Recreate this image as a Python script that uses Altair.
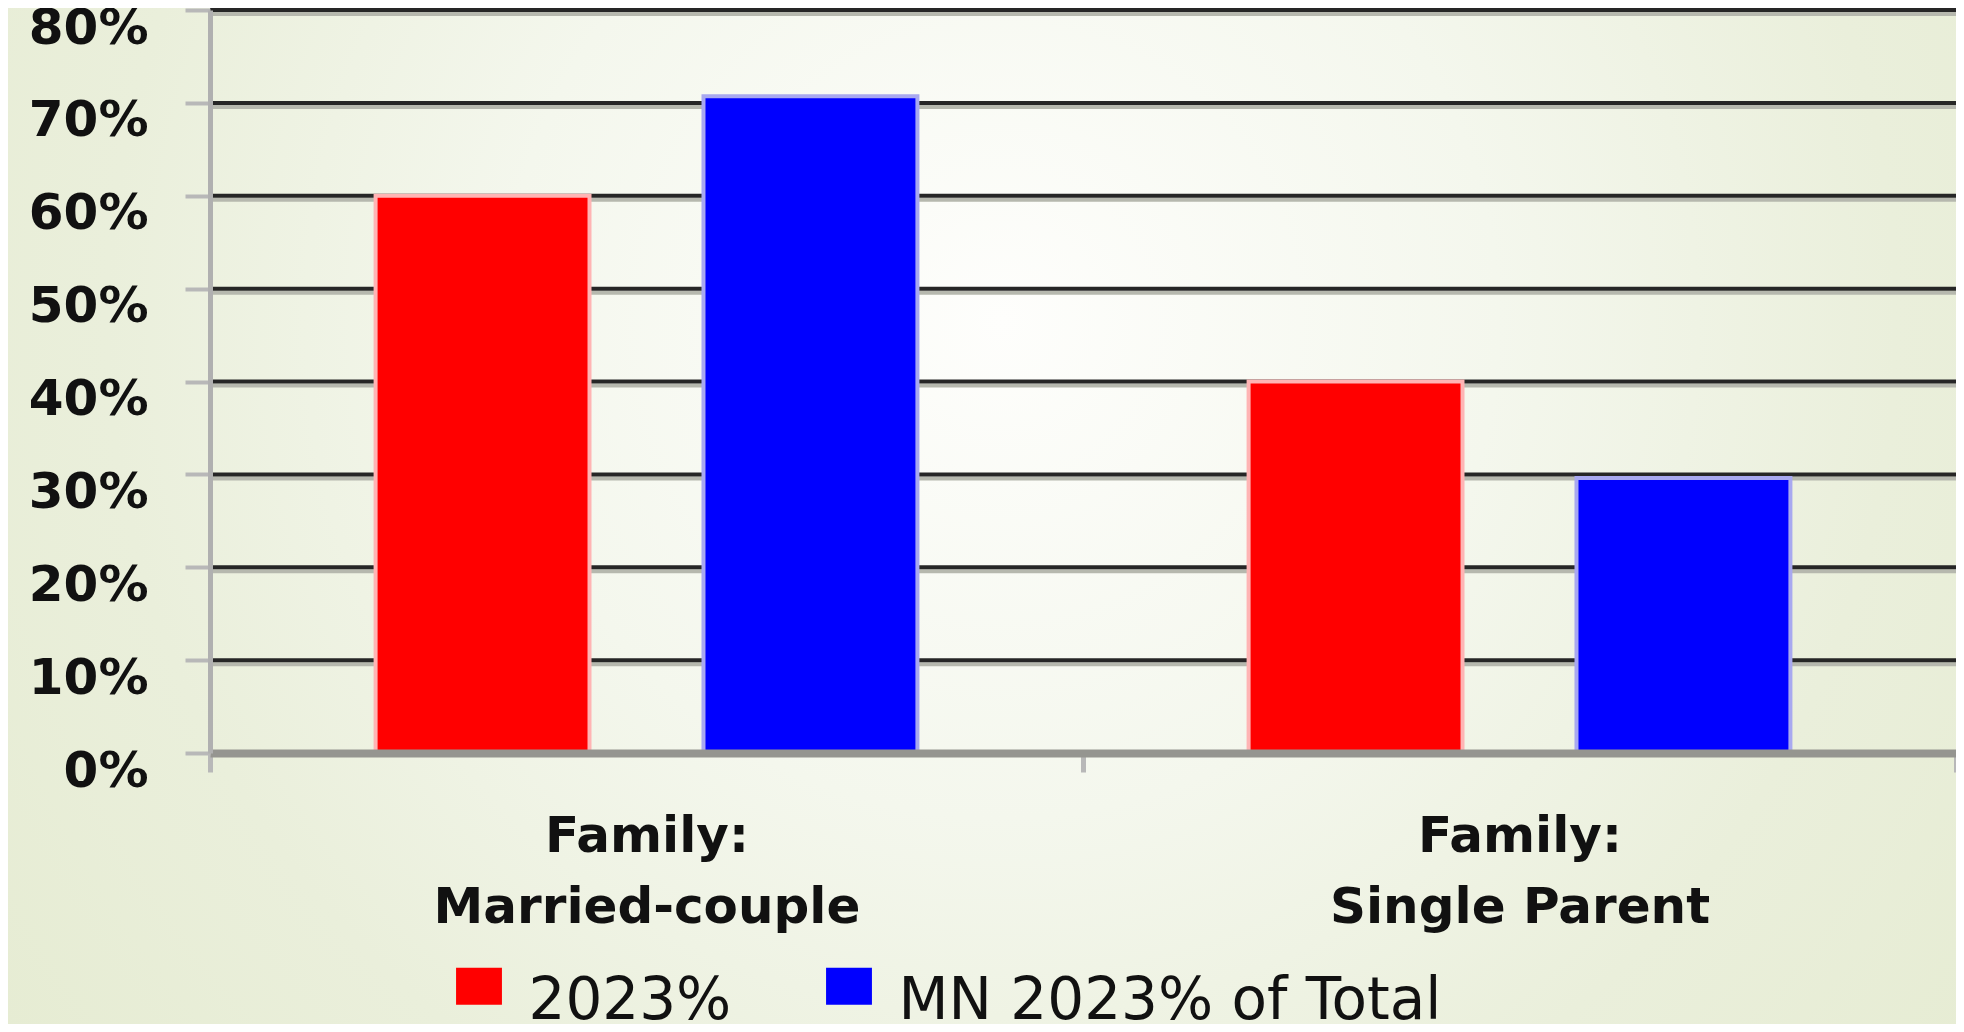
import altair as alt
import pandas as pd

categories = ["Family: Married-couple", "Family: Single Parent"]
series = ["2023%", "MN 2023% of Total"]
values_2023 = [0.60, 0.40]
values_mn = [0.707, 0.296]
y_ticks = [0, 0.1, 0.2, 0.3, 0.4, 0.5, 0.6, 0.7, 0.8]
colors = ["#ff0000", "#0000ff"]
edge_colors = ["#ffb4b4", "#a8a8f0"]

rows = []
for i, c in enumerate(categories):
    rows.append({"category": c, "series": series[0], "value": values_2023[i]})
    rows.append({"category": c, "series": series[1], "value": values_mn[i]})
bars_df = pd.DataFrame(rows)
grid_df = pd.DataFrame({"v": y_ticks[1:]})
bg_df = pd.DataFrame({"bg": [0]})

W, H = 1746, 743
PAD = {"left": 202, "top": 2, "right": 0, "bottom": 271}
FONT = "DejaVu Sans"

yscale = alt.Scale(domain=[0, 0.8], nice=False, zero=True)
y_axis = alt.Axis(
    title=None, values=y_ticks, format=".0%", labelFont=FONT, labelFontSize=50,
    labelFontWeight="bold", labelColor="#111111", labelBaseline="top", labelOffset=-7,
    labelPadding=37, labelLimit=1000, tickSize=25, tickColor="#b8b8b8", tickWidth=4,
    domainColor="#b0b0b0", domainWidth=5, grid=False, zindex=1,
)
x_axis = alt.Axis(
    title=None, labelAngle=0,
    labelExpr="[substring(datum.label, 0, 7), substring(datum.label, 8)]",
    labelFont=FONT, labelFontSize=50, labelFontWeight="bold", labelColor="#111111",
    labelLineHeight=71, labelPadding=39, labelLimit=1000, tickBand="extent",
    tickSize=19, tickColor="#b8b8b8", tickWidth=5, domainColor="#959590",
    domainWidth=8, grid=False, zindex=1,
)

background = alt.Chart(bg_df).mark_rect(
    clip=False,
    fill=alt.RadialGradient(
        gradient="radial", x1=0.51, y1=0.4, x2=0.51, y2=0.4, r1=0, r2=0.85,
        stops=[
            alt.GradientStop(color="#fefefc", offset=0),
            alt.GradientStop(color="#f4f7ed", offset=0.3),
            alt.GradientStop(color="#eaefdb", offset=0.54),
            alt.GradientStop(color="#e6ecd3", offset=0.74),
            alt.GradientStop(color="#e2eacc", offset=1),
        ],
    ),
).encode(
    x=alt.value(-PAD["left"]), x2=alt.value(W + PAD["right"]),
    y=alt.value(-PAD["top"]), y2=alt.value(H + PAD["bottom"]),
)

grid_shadow = alt.Chart(grid_df).mark_rule(color="#b6b8ae", strokeWidth=4, yOffset=4).encode(
    y=alt.Y("v:Q", scale=yscale, axis=y_axis), x=alt.value(0), x2=alt.value(W)
)
grid = alt.Chart(grid_df).mark_rule(color="#262626", strokeWidth=4).encode(
    y=alt.Y("v:Q", scale=yscale, axis=y_axis), x=alt.value(0), x2=alt.value(W)
)

bars = alt.Chart(bars_df).mark_bar(strokeWidth=4).encode(
    x=alt.X("category:N", sort=categories, scale=alt.Scale(paddingInner=0, paddingOuter=0), axis=x_axis),
    xOffset=alt.XOffset("series:N", sort=series, scale=alt.Scale(paddingInner=0.3476, paddingOuter=0.505)),
    y=alt.Y("value:Q", scale=yscale, axis=y_axis),
    color=alt.Color(
        "series:N", sort=series, scale=alt.Scale(domain=series, range=colors),
        legend=alt.Legend(
            title=None, orient="none", legendX=240, legendY=934, direction="horizontal",
            symbolType="M-1.24,-0.28H1.24V1.72H-1.24Z", symbolSize=1369, symbolStrokeWidth=0,
            labelFont=FONT, labelFontSize=58, labelColor="#111111", labelOffset=20.5,
            labelLimit=1000, columnPadding=88, padding=0, labelBaseline="top",
            symbolOpacity=1,
        ),
    ),
    stroke=alt.Stroke("series:N", sort=series, scale=alt.Scale(domain=series, range=edge_colors), legend=None),
)

chart = alt.layer(background, grid_shadow, grid, bars).properties(
    width=W, height=H, padding=PAD, autosize=alt.AutoSizeParams(type="none"),
    background="#eef2e0",
).configure_view(stroke=None)

chart.save("out.html", embed_options={"renderer": "svg", "actions": False})
